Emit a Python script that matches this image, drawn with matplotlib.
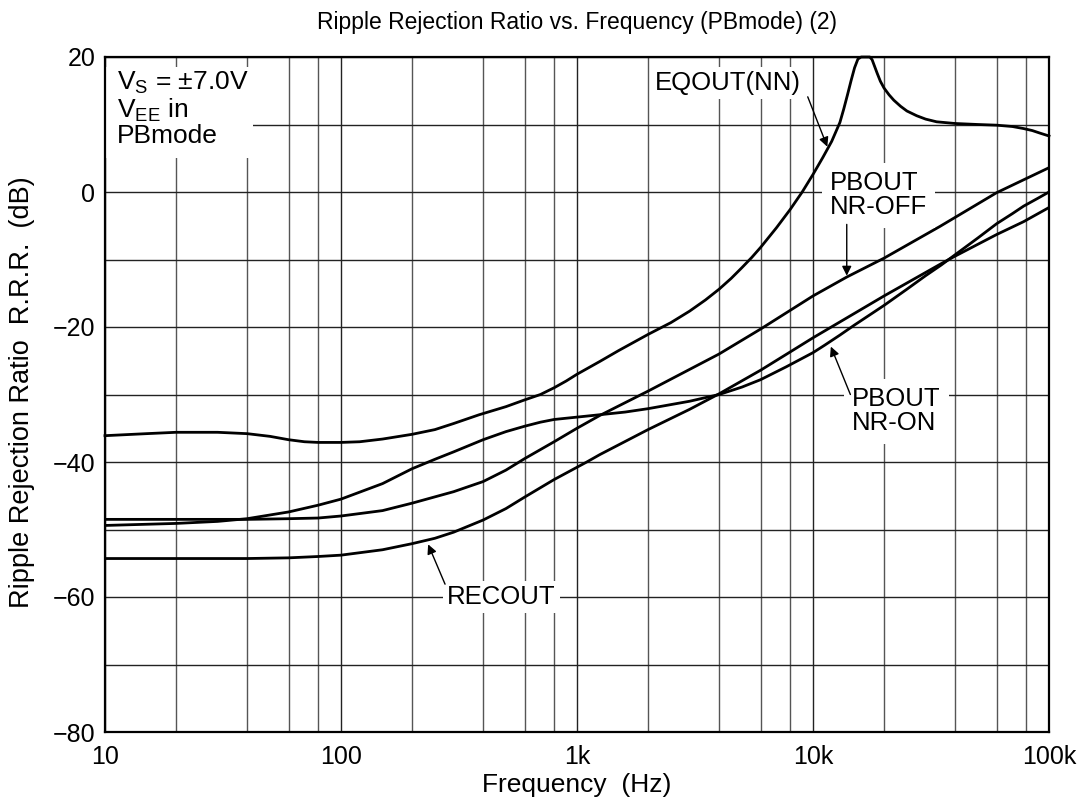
import matplotlib
matplotlib.use("Agg")
import matplotlib.pyplot as plt
from matplotlib.ticker import FixedLocator, NullFormatter
from matplotlib.patches import Rectangle

plt.rcParams['font.family'] = ['Liberation Sans', 'DejaVu Sans']
plt.rcParams['mathtext.fontset'] = 'custom'
plt.rcParams['mathtext.rm'] = 'Liberation Sans'
plt.rcParams['mathtext.it'] = 'Liberation Sans:italic'
plt.rcParams['mathtext.bf'] = 'Liberation Sans:bold'

# values (Hz, dB)
eq_f = [10, 15, 20, 30, 40, 50, 60, 70, 80, 100, 120, 150, 200, 250, 300, 385, 500,
        600, 700, 800, 900, 1000, 1250, 1500, 2000, 2500, 3000, 3500, 4000, 4500, 5000,
        5500, 6000, 7000, 8000, 9000, 10000, 11000, 12000, 13000, 13500, 14000, 14500,
        15000, 15500, 16000, 17400, 17800, 18200, 18700, 19300, 20000, 21000, 22000,
        23500, 25000, 27500, 30000, 33400, 40000, 50000, 60000, 70000, 78000, 85000,
        92000, 100000]
eq_db = [-36.1, -35.8, -35.6, -35.6, -35.8, -36.2, -36.7, -37.0, -37.1, -37.1, -37.0,
         -36.6, -35.9, -35.2, -34.3, -33.0, -31.8, -30.8, -30.0, -29.0, -28.0, -27.0,
         -25.1, -23.5, -21.1, -19.35, -17.65, -16.0, -14.4, -12.8, -11.2, -9.7, -8.2,
         -5.3, -2.6, 0.0, 2.6, 5.1, 7.5, 10.3, 12.3, 14.4, 16.5, 18.4, 19.7, 20.0, 20.0,
         19.6, 18.7, 17.6, 16.4, 15.4, 14.4, 13.6, 12.7, 12.0, 11.3, 10.8, 10.4, 10.15,
         10.0, 9.9, 9.7, 9.4, 9.1, 8.7, 8.3]

off_f = [10, 20, 40, 60, 80, 100, 150, 200, 300, 400, 500, 600, 800, 1000, 1250, 2000,
         4000, 6000, 10000, 13900, 20000, 34500, 60000, 100000]
off_db = [-48.5, -48.5, -48.5, -48.4, -48.3, -48.0, -47.2, -46.1, -44.4, -42.9, -41.2,
          -39.5, -37.0, -35.0, -33.1, -29.5, -24.0, -20.3, -15.4, -12.6, -9.8, -5.1,
          -0.1, 3.6]

on_f = [10, 20, 30, 40, 60, 80, 100, 150, 200, 250, 300, 400, 500, 600, 700, 800, 1100,
        1600, 2000, 3000, 4000, 5000, 6000, 7700, 10000, 11200, 13000, 15000, 20000,
        25000, 30000, 35000, 40000, 50000, 60000, 70000, 78000, 90000, 100000]
on_db = [-49.4, -49.1, -48.8, -48.4, -47.4, -46.4, -45.5, -43.2, -41.0, -39.6, -38.5,
         -36.7, -35.5, -34.7, -34.1, -33.7, -33.2, -32.6, -32.1, -31.0, -30.0, -28.9,
         -27.8, -25.9, -23.8, -22.7, -21.2, -19.7, -16.8, -14.4, -12.4, -10.8, -9.3,
         -6.8, -4.7, -3.2, -2.1, -0.9, 0.0]

rec_f = [10, 20, 40, 60, 80, 100, 150, 200, 250, 300, 400, 500, 600, 800, 1100, 1250,
         2000, 3000, 4000, 6000, 8000, 10000, 20000, 35000, 40000, 60000, 78000, 100000]
rec_db = [-54.3, -54.3, -54.3, -54.2, -54.0, -53.8, -53.0, -52.1, -51.3, -50.4, -48.6,
          -46.9, -45.2, -42.6, -40.0, -38.9, -35.2, -32.2, -29.9, -26.4, -23.7, -21.6,
          -15.4, -10.6, -9.5, -6.3, -4.4, -2.3]

x_ticks = [10, 100, 1000, 10000, 100000]
x_labels = ['10', '100', '1k', '10k', '100k']
x_minor = [m * d for d in [10, 100, 1000, 10000] for m in [2, 4, 6, 8]]
y_ticks = list(range(-80, 21, 10))
y_labels = ['\u221280', '', '\u221260', '', '\u221240', '', '\u221220', '', '0', '', '20']

fig = plt.figure(figsize=(10.86, 8.11), dpi=100)
ax = fig.add_axes([105 / 1086, 79 / 811, 944 / 1086, 675 / 811])

ax.plot(eq_f, eq_db, color='black', lw=2.0, solid_joinstyle='round', zorder=3, clip_on=False)
for f, db in [(off_f, off_db), (on_f, on_db), (rec_f, rec_db)]:
    ax.plot(f, db, color='black', lw=2.0, solid_joinstyle='round', zorder=3)

ax.set_xscale('log')
ax.set_xlim(10, 100000)
ax.set_ylim(-80, 20)
ax.xaxis.set_major_locator(FixedLocator(x_ticks))
ax.set_xticklabels(x_labels)
ax.xaxis.set_minor_locator(FixedLocator(x_minor))
ax.xaxis.set_minor_formatter(NullFormatter())
ax.set_yticks(y_ticks)
ax.set_yticklabels(y_labels)
ax.tick_params(which='both', length=0, labelsize=18)
ax.tick_params(axis='x', pad=9)
ax.tick_params(axis='y', pad=7)
ax.grid(True, which='major', color='#222222', lw=1.0)
ax.grid(True, which='minor', axis='x', color='#555555', lw=1.0)
ax.set_axisbelow(True)
for s in ax.spines.values():
    s.set_linewidth(1.6)

fig.text(577 / 1086, 1 - 22 / 811, 'Ripple Rejection Ratio vs. Frequency (PBmode) (2)',
         ha='center', va='center', fontsize=16.5)
fig.text(577 / 1086, 1 - 785 / 811, 'Frequency  (Hz)', ha='center', va='center', fontsize=19)
fig.text(22 / 1086, 1 - 392 / 811, 'Ripple Rejection Ratio  R.R.R.  (dB)', rotation=90,
         ha='center', va='center', fontsize=19.5)

# conditions box, top left
ax.add_patch(Rectangle((0.0, 0.850), 0.157, 0.135, transform=ax.transAxes,
                       facecolor='white', edgecolor='none', zorder=2))
ax.text(11.24, 18.1, 'V$_\\mathrm{S}$ = \u00b17.0V\nV$_\\mathrm{EE}$ in\nPBmode',
        ha='left', va='top', fontsize=19, linespacing=1.02, zorder=4)

box = dict(facecolor='white', edgecolor='none', pad=3)
arrow = dict(arrowstyle='-|>', color='black', lw=1.0, mutation_scale=14, shrinkA=0, shrinkB=0)

ax.text(4370, 16.2, 'EQOUT(NN)', ha='center', va='center', fontsize=18.5, bbox=box, zorder=4)
ax.annotate('', xy=(11500, 6.7), xytext=(9500, 14.1), arrowprops=arrow, zorder=4)

ax.text(11800, -0.5, 'PBOUT\nNR-OFF', ha='left', va='center', fontsize=18.5,
        linespacing=1.0, bbox=dict(facecolor='white', edgecolor='none', pad=6), zorder=4)
ax.annotate('', xy=(13900, -12.4), xytext=(13900, -4.8), arrowprops=arrow, zorder=4)

ax.text(14600, -32.5, 'PBOUT\nNR-ON', ha='left', va='center', fontsize=18.5,
        linespacing=1.0, bbox=dict(facecolor='white', edgecolor='none', pad=6), zorder=4)
ax.annotate('', xy=(11900, -22.9), xytext=(14400, -30.0), arrowprops=arrow, zorder=4)

ax.text(479, -60, 'RECOUT', ha='center', va='center', fontsize=18.5, bbox=box, zorder=4)
ax.annotate('', xy=(234, -52.2), xytext=(276, -58.1), arrowprops=arrow, zorder=4)

fig.savefig('out.png', dpi=100)
